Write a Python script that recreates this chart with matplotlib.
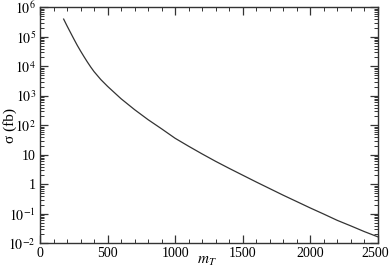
import matplotlib
matplotlib.use("Agg")
import matplotlib.pyplot as plt
import matplotlib.transforms as mtransforms
from matplotlib.ticker import FixedLocator, MultipleLocator, LogLocator, NullFormatter

plt.rcParams['font.family'] = 'serif'
plt.rcParams['font.serif'] = ['Liberation Serif', 'DejaVu Serif']
plt.rcParams['mathtext.fontset'] = 'stix'

# cross section vs m_T
m_T = [175, 200, 225, 250, 275, 300, 325, 350, 375, 400, 450, 500, 600, 700,
       800, 900, 1000, 1100, 1200, 1300, 1400, 1500, 1600, 1700, 1800, 1900,
       2000, 2100, 2200, 2300, 2400, 2500]
sigma = [3.98e5, 2.34e5, 1.41e5, 8.5e4, 5.2e4, 3.3e4, 2.14e4, 1.41e4, 9.5e3,
         6.6e3, 3.55e3, 2.09e3, 794, 339, 155, 75.9, 36.3, 19.5, 10.7, 6.0,
         3.47, 2.04, 1.20, 0.716, 0.427, 0.26, 0.158, 0.098, 0.060, 0.039,
         0.025, 0.0166]

xtick_vals = [0, 500, 1000, 1500, 2000, 2500]
ytick_vals = [1e-2, 1e-1, 1, 10, 1e2, 1e3, 1e4, 1e5, 1e6]
ytick_labels = [r'$10^{-2}$', r'$10^{-1}$', '1', '10', r'$10^{2}$',
                r'$10^{3}$', r'$10^{4}$', r'$10^{5}$', r'$10^{6}$']

fig = plt.figure(figsize=(3.9, 2.73), dpi=100)
ax = fig.add_axes([0.1026, 0.1088, 0.866, 0.8645])

ax.plot(m_T, sigma, color='#333333', lw=0.9)

ax.set_yscale('log')
ax.set_xlim(0, 2500)
ax.set_ylim(1e-2, 1e6)

ax.set_xticks(xtick_vals)
ax.set_xticklabels([str(v) for v in xtick_vals])
ax.xaxis.set_minor_locator(MultipleLocator(100))
ax.yaxis.set_major_locator(FixedLocator(ytick_vals))
ax.set_yticklabels(ytick_labels)
ax.yaxis.set_minor_locator(LogLocator(base=10, subs=range(2, 10), numticks=20))
ax.yaxis.set_minor_formatter(NullFormatter())

ax.tick_params(which='both', direction='in', top=True, right=True,
               color='#333333', labelsize=10, pad=3)
ax.tick_params(which='major', length=6, width=0.9)
ax.tick_params(which='minor', length=3, width=0.7)
for s in ax.spines.values():
    s.set_linewidth(1.0)
    s.set_color('#333333')

# keep the last x label inside the figure
last = ax.get_xticklabels()[-1]
last.set_transform(last.get_transform() +
                   mtransforms.ScaledTranslation(-2.5 / 100, 0, fig.dpi_scale_trans))

ax.set_xlabel(r'$m_T$', fontsize=11)
ax.set_ylabel('σ (fb)', fontsize=11)
ax.xaxis.set_label_coords(0.495, -0.05)
ax.yaxis.set_label_coords(-0.068, 0.5)

fig.savefig('out.png', dpi=100)
